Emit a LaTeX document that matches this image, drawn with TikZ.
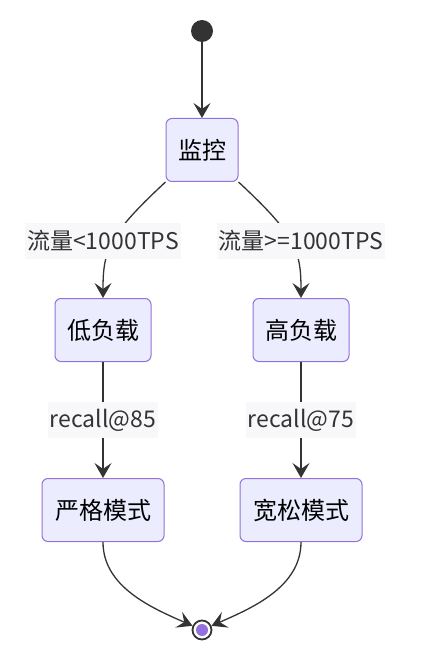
\documentclass[tikz,border=0pt]{standalone}
\usepackage{fontspec}
\setmainfont{Noto Sans CJK SC}
\usetikzlibrary{arrows.meta, positioning, calc}
\definecolor{statefill}{HTML}{ECECFF}
\definecolor{stateline}{HTML}{9370DB}
\definecolor{flowdark}{HTML}{333333}
\definecolor{labelbg}{HTML}{F8F8FA}

\begin{document}
\begin{tikzpicture}[x=1pt, y=-1pt,
  statebox/.style={draw=stateline, fill=statefill, line width=1pt, rounded corners=6pt, minimum height=63pt, text=black, font=\fontsize{24}{24}\selectfont},
  edgelabel/.style={fill=labelbg, inner sep=2pt, minimum height=36pt, text=flowdark, font=\fontsize{23}{23}\selectfont},
  flow/.style={draw=flowdark, line width=1.3pt, -{Stealth[length=15pt, width=17pt, inset=6pt]}}]
  \useasboundingbox (0,0) rectangle (433,652);

  % Start and end points
  \node[circle, fill=flowdark, minimum size=22pt, inner sep=0pt] (start) at (202,31) {};
  \node[circle, draw=flowdark, line width=1.8pt, fill=white, minimum size=19pt, inner sep=0pt] (finish) at (202,630) {};
  \fill[stateline] (finish) circle (6pt);

  % States
  \node[statebox, minimum width=72pt] (monitor) at (202,150) {监控};
  \node[statebox, minimum width=96pt] (lowload) at (103,330) {低负载};
  \node[statebox, minimum width=96pt] (highload) at (301,330) {高负载};
  \node[statebox, minimum width=122pt] (strict) at (103,510) {严格模式};
  \node[statebox, minimum width=122pt] (loose) at (301,510) {宽松模式};

  % Transitions
  \draw[flow] (start) -- (monitor);
  \draw[flow] (monitor.south west) .. controls +(-57,53) and +(0,-48) .. (lowload.north);
  \draw[flow] (monitor.south east) .. controls +(57,53) and +(0,-48) .. (highload.north);
  \draw[flow] (lowload) -- (strict);
  \draw[flow] (highload) -- (loose);
  \draw[flow] (strict.south) .. controls +(0,45) and +(-50,-22) .. (finish);
  \draw[flow] (loose.south) .. controls +(0,45) and +(50,-22) .. (finish);

  % Transition labels
  \node[edgelabel] (lowlbl) at (103,241) {流量<1000TPS};
  \node[edgelabel] (highlbl) at (301,241) {流量>=1000TPS};
  \node[edgelabel] (strictlbl) at (103,420) {recall@85};
  \node[edgelabel] (looselbl) at (301,420) {recall@75};
\end{tikzpicture}
\end{document}
